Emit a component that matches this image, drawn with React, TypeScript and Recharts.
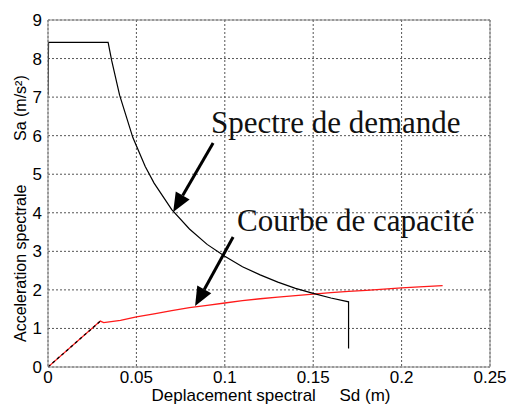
import React from "react";
import {
  LineChart,
  Line,
  XAxis,
  YAxis,
  CartesianGrid,
  ReferenceLine,
  Customized,
} from "recharts";

// Spectre de demande (Sd en m, Sa en m/s²)
const demandSd = [0, 0.0003, 0.034, 0.036, 0.0405, 0.048, 0.055, 0.06, 0.07, 0.08, 0.09, 0.1, 0.11, 0.12, 0.13, 0.14, 0.15, 0.16, 0.17, 0.17];
const demandSa = [7.05, 8.42, 8.42, 7.95, 7.05, 5.95, 5.2, 4.77, 4.08, 3.58, 3.18, 2.87, 2.6, 2.39, 2.2, 2.04, 1.91, 1.79, 1.69, 0.48];

// Courbe de capacité
const capSd = [0, 0.0296, 0.0315, 0.041, 0.05, 0.06, 0.07, 0.08, 0.09, 0.1, 0.11, 0.12, 0.13, 0.14, 0.15, 0.16, 0.17, 0.18, 0.19, 0.2, 0.21, 0.2232];
const capSa = [0, 1.19, 1.15, 1.21, 1.3, 1.38, 1.46, 1.54, 1.6, 1.66, 1.72, 1.77, 1.81, 1.85, 1.89, 1.93, 1.96, 1.99, 2.02, 2.05, 2.08, 2.11];

// partie élastique
const elasticSd = [0, 0.0296];
const elasticSa = [0, 1.19];

const xTicks = [0, 0.05, 0.1, 0.15, 0.2, 0.25];
const yTicks = [0, 1, 2, 3, 4, 5, 6, 7, 8, 9];

// flèches d'annotation : [départ, pointe]
const arrowDemand = [{ x: 0.0934, y: 5.81 }, { x: 0.0708, y: 4.02 }];
const arrowCapacity = [{ x: 0.1047, y: 3.37 }, { x: 0.0832, y: 1.58 }];

const toRows = (xs: number[], ys: number[]) => xs.map((sd, i) => ({ sd, sa: ys[i] }));

const demandData = toRows(demandSd, demandSa);
const capData = toRows(capSd, capSa);
const elasticData = toRows(elasticSd, elasticSa);

const Arrow = (props: any) => {
  const { x1, y1, x2, y2 } = props;
  const dx = x2 - x1;
  const dy = y2 - y1;
  const len = Math.sqrt(dx * dx + dy * dy);
  const ux = dx / len;
  const uy = dy / len;
  const headLen = 19;
  const headW = 8;
  const bx = x2 - ux * headLen;
  const by = y2 - uy * headLen;
  const pts = `${x2},${y2} ${bx - uy * headW},${by + ux * headW} ${bx + uy * headW},${by - ux * headW}`;
  return (
    <g>
      <line x1={x1} y1={y1} x2={bx} y2={by} stroke="#000" strokeWidth={3} />
      <polygon points={pts} fill="#000" />
    </g>
  );
};

const serif = { fontFamily: "'Liberation Serif', serif", fontSize: 31, fill: "#111" };

const Annotations = () => (
  <g>
    <text x={211} y={133} style={serif}>Spectre de demande</text>
    <text x={237} y={231} style={serif}>Courbe de capacité</text>
  </g>
);

const YLabel = () => (
  <g style={{ fontFamily: "Arial, 'Liberation Sans', sans-serif", fontSize: 16 }}>
    <text x={26} y={342} transform="rotate(-90 26 342)" fill="#000">Acceleration spectrale</text>
    <text x={26} y={141} transform="rotate(-90 26 141)" fill="#000">Sa (m/s²)</text>
  </g>
);

const XLabel = () => (
  <text
    x={271}
    y={401}
    textAnchor="middle"
    fill="#000"
    style={{ fontFamily: "Arial, 'Liberation Sans', sans-serif", fontSize: 17, whiteSpace: "pre" }}
  >
    {"Deplacement spectral     Sd (m)"}
  </text>
);

const tickStyle = { fill: "#000", fontSize: 17, fontFamily: "Arial, 'Liberation Sans', sans-serif" };

export default function App() {
  return (
    <div style={{ position: "fixed", left: 0, top: 0, width: 511, height: 408, background: "#fff" }}>
      <LineChart width={511} height={408} margin={{ top: 20, right: 21, bottom: 0, left: 0 }}>
        <CartesianGrid stroke="#555" strokeDasharray="2 2" verticalValues={xTicks} horizontalValues={yTicks} />
        <XAxis
          type="number"
          dataKey="sd"
          domain={[0, 0.25]}
          ticks={xTicks}
          height={41}
          tickLine={false}
          tickSize={0}
          tickMargin={4}
          stroke="#888"
          tick={tickStyle}
          allowDataOverflow
        />
        <YAxis
          type="number"
          dataKey="sa"
          domain={[0, 9]}
          ticks={yTicks}
          width={48}
          tickLine={false}
          tickSize={0}
          tickMargin={6}
          stroke="#888"
          tick={tickStyle}
          allowDataOverflow
        />
        <ReferenceLine x={0.25} stroke="#888" />
        <ReferenceLine y={9} stroke="#888" />
        <Line data={capData} dataKey="sa" stroke="#ff1a1a" strokeWidth={1.3} dot={false} isAnimationActive={false} />
        <Line data={elasticData} dataKey="sa" stroke="#000" strokeWidth={1.3} strokeDasharray="3 3" dot={false} isAnimationActive={false} />
        <Line data={demandData} dataKey="sa" stroke="#000" strokeWidth={1.2} dot={false} isAnimationActive={false} />
        <ReferenceLine segment={arrowDemand} shape={Arrow} ifOverflow="visible" />
        <ReferenceLine segment={arrowCapacity} shape={Arrow} ifOverflow="visible" />
        <Customized component={Annotations} />
        <Customized component={YLabel} />
        <Customized component={XLabel} />
      </LineChart>
    </div>
  );
}
